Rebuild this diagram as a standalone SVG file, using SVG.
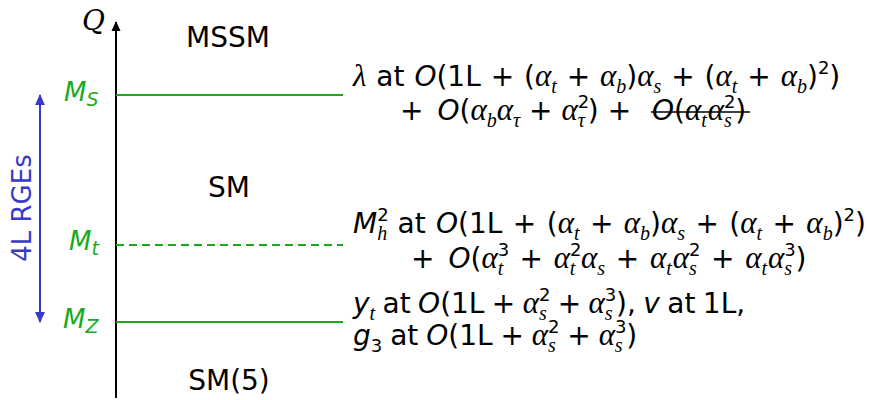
<svg xmlns="http://www.w3.org/2000/svg" width="870" height="400" viewBox="0 0 870 400">
<defs>
<style>
.t{font-family:"DejaVu Sans",sans-serif;font-size:28px;fill:#000}
.gk{font-family:"Liberation Serif",serif;font-style:italic;font-size:31px}
.it{font-family:"DejaVu Sans",sans-serif;font-style:italic}
.sb{font-family:"Liberation Serif",serif;font-style:italic;font-size:20px}
.sp{font-family:"DejaVu Sans",sans-serif;font-size:18px}
.lab{font-family:"DejaVu Sans",sans-serif;font-size:28px;fill:#000;text-anchor:middle}
.grn{font-family:"DejaVu Sans",sans-serif;font-style:italic;font-size:26px;fill:#1aaa1a}
.gsub{font-size:19px}
.lvl{stroke:#1aaa1a;stroke-width:2;fill:none}
</style>
<marker id="ah" viewBox="0 0 10 10" refX="9" refY="5" markerWidth="12" markerHeight="10" markerUnits="userSpaceOnUse" orient="auto-start-reverse"><path d="M0,0.5 L10,5 L0,9.5 Z" fill="#000"/></marker>
<marker id="bh" viewBox="0 0 10 10" refX="9" refY="5" markerWidth="13" markerHeight="11" markerUnits="userSpaceOnUse" orient="auto-start-reverse"><path d="M0,0.5 L10,5 L0,9.5 Z" fill="#3939c9"/></marker>
</defs>
<g id="connectors">
<line x1="116" y1="398" x2="116" y2="22" stroke="#000" stroke-width="2" marker-end="url(#ah)"/>
<line class="lvl" x1="116" y1="95" x2="343" y2="95"/>
<line class="lvl" x1="116" y1="245" x2="343" y2="245" stroke-dasharray="8,5"/>
<line class="lvl" x1="116" y1="322" x2="343" y2="322"/>
<line x1="40" y1="95" x2="40" y2="322" stroke="#3939c9" stroke-width="2" marker-start="url(#bh)" marker-end="url(#bh)"/>
</g>
<g id="axis-label"><text x="82" y="30" style="font-family:'DejaVu Serif',serif;font-style:italic;font-size:28px;fill:#000">Q</text></g>
<g id="rge-label"><text transform="translate(31,208) rotate(-90)" text-anchor="middle" style="font-family:'DejaVu Sans',sans-serif;font-size:26px;fill:#3939c9">4L RGEs</text></g>
<g id="scale-MS"><text class="grn" x="64" y="101">M<tspan class="gsub" dy="5">S</tspan></text></g>
<g id="scale-Mt"><text class="grn" x="69" y="250">M<tspan class="gsub" dy="5">t</tspan></text></g>
<g id="scale-MZ"><text class="grn" x="63" y="328">M<tspan class="gsub" dy="5">Z</tspan></text></g>
<g id="region-MSSM"><text class="lab" x="228" y="47">MSSM</text></g>
<g id="region-SM"><text class="lab" x="229" y="197">SM</text></g>
<g id="region-SM5"><text class="lab" x="229" y="390">SM(5)</text></g>
<g id="note-lambda">
<text class="t" x="353" y="86" style="word-spacing:1px"><tspan class="gk">λ</tspan> at <tspan class="it">O</tspan>(1L + (<tspan class="gk">α</tspan><tspan class="sb" dy="7">t</tspan><tspan dy="-7"> + </tspan><tspan class="gk">α</tspan><tspan class="sb" dy="7">b</tspan><tspan dy="-7">)</tspan><tspan class="gk">α</tspan><tspan class="sb" dy="7">s</tspan><tspan dy="-7"> + (</tspan><tspan class="gk">α</tspan><tspan class="sb" dy="7">t</tspan><tspan dy="-7"> + </tspan><tspan class="gk">α</tspan><tspan class="sb" dy="7">b</tspan><tspan dy="-7">)</tspan><tspan class="sp" dy="-12">2</tspan><tspan dy="12">)</tspan></text>
<text class="t" x="400" y="120">+<tspan class="it" dx="14">O</tspan>(<tspan class="gk">α</tspan><tspan class="sb" dy="7">b</tspan><tspan class="gk" dy="-7">α</tspan><tspan class="sb" dy="7">τ</tspan><tspan dy="-7"> + </tspan><tspan class="gk">α</tspan><tspan class="sp" dy="-12">2</tspan><tspan class="sb" dx="-11.5" dy="19">τ</tspan><tspan dx="3" dy="-7">) +</tspan></text>
<text class="t" x="652" y="120"><tspan class="it">O</tspan>(<tspan class="gk">α</tspan><tspan class="sb" dy="7">t</tspan><tspan class="gk" dx="1" dy="-7">α</tspan><tspan class="sp" dy="-12">2</tspan><tspan class="sb" dx="-11.5" dy="19">s</tspan><tspan dx="3.5" dy="-7">)</tspan></text>
<line x1="651" y1="112" x2="750" y2="112" stroke="#000" stroke-width="1.5"/>
</g>
<g id="note-Mh">
<text class="t" x="353" y="233" style="word-spacing:1.5px"><tspan class="it">M</tspan><tspan class="sp" dy="-12">2</tspan><tspan class="sb" dx="-11.5" dy="19">h</tspan><tspan dy="-7"> at </tspan><tspan class="it">O</tspan>(1L + (<tspan class="gk">α</tspan><tspan class="sb" dy="7">t</tspan><tspan dy="-7"> + </tspan><tspan class="gk">α</tspan><tspan class="sb" dy="7">b</tspan><tspan dy="-7">)</tspan><tspan class="gk">α</tspan><tspan class="sb" dy="7">s</tspan><tspan dy="-7"> + (</tspan><tspan class="gk">α</tspan><tspan class="sb" dy="7">t</tspan><tspan dy="-7"> + </tspan><tspan class="gk">α</tspan><tspan class="sb" dy="7">b</tspan><tspan dy="-7">)</tspan><tspan class="sp" dy="-12">2</tspan><tspan dy="12">)</tspan></text>
<text class="t" x="411" y="268" style="word-spacing:1.8px">+<tspan class="it" dx="14">O</tspan>(<tspan class="gk">α</tspan><tspan class="sp" dy="-12">3</tspan><tspan class="sb" dx="-11.5" dy="19">t</tspan><tspan dx="5.5" dy="-7"> + </tspan><tspan class="gk">α</tspan><tspan class="sp" dy="-12">2</tspan><tspan class="sb" dx="-11.5" dy="19">t</tspan><tspan class="gk" dx="5.5" dy="-7">α</tspan><tspan class="sb" dy="7">s</tspan><tspan dy="-7"> + </tspan><tspan class="gk">α</tspan><tspan class="sb" dy="7">t</tspan><tspan class="gk" dx="1" dy="-7">α</tspan><tspan class="sp" dy="-12">2</tspan><tspan class="sb" dx="-11.5" dy="19">s</tspan><tspan dx="3.5" dy="-7"> + </tspan><tspan class="gk">α</tspan><tspan class="sb" dy="7">t</tspan><tspan class="gk" dx="1" dy="-7">α</tspan><tspan class="sp" dy="-12">3</tspan><tspan class="sb" dx="-11.5" dy="19">s</tspan><tspan dx="3.5" dy="-7">)</tspan></text>
</g>
<g id="note-yt">
<text class="t" x="353" y="313" style="word-spacing:-1.5px"><tspan class="it">y</tspan><tspan class="sb" dy="7">t</tspan><tspan dy="-7"> at </tspan><tspan class="it">O</tspan>(1L + <tspan class="gk">α</tspan><tspan class="sp" dy="-12">2</tspan><tspan class="sb" dx="-11.5" dy="19">s</tspan><tspan dx="3.5" dy="-7"> + </tspan><tspan class="gk">α</tspan><tspan class="sp" dy="-12">3</tspan><tspan class="sb" dx="-11.5" dy="19">s</tspan><tspan dx="3.5" dy="-7">), </tspan><tspan class="it">v</tspan> at 1L,</text>
<text class="t" x="353" y="345" style="word-spacing:-1px"><tspan class="it">g</tspan><tspan class="sp" dy="7">3</tspan><tspan dy="-7"> at </tspan><tspan class="it">O</tspan>(1L + <tspan class="gk">α</tspan><tspan class="sp" dy="-12">2</tspan><tspan class="sb" dx="-11.5" dy="19">s</tspan><tspan dx="3.5" dy="-7"> + </tspan><tspan class="gk">α</tspan><tspan class="sp" dy="-12">3</tspan><tspan class="sb" dx="-11.5" dy="19">s</tspan><tspan dx="3.5" dy="-7">)</tspan></text>
</g>
</svg>
